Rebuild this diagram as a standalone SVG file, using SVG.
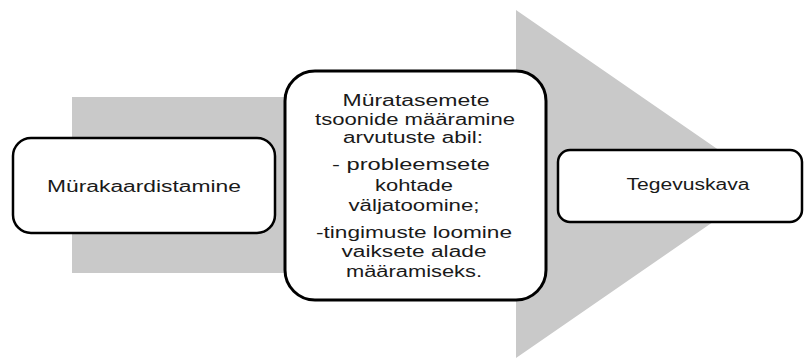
<svg xmlns="http://www.w3.org/2000/svg" width="805" height="360" viewBox="0 0 805 360">
<style>
.box{fill:#fff;stroke:#000;}
.t{font-family:"Liberation Sans",Arial,sans-serif;font-size:16px;fill:#1a1a1a;text-anchor:middle;}
</style>
<rect width="805" height="360" fill="#fff"/>
<g id="connectors">
<polygon points="72,97 516,97 516,10 768,184 516,358 516,273 72,273" fill="#c9c9c9"/>
</g>
<g id="node-murakaardistamine">
<rect class="box" x="13" y="138" width="262" height="95" rx="18" stroke-width="2.5"/>
<text class="t" x="144" y="192" textLength="194" lengthAdjust="spacingAndGlyphs">Mürakaardistamine</text>
</g>
<g id="node-muratasemete">
<rect class="box" x="285" y="71" width="261" height="229" rx="30" stroke-width="3"/>
<text class="t" x="416" y="106" textLength="147" lengthAdjust="spacingAndGlyphs">Müratasemete</text>
<text class="t" x="415" y="125" textLength="200" lengthAdjust="spacingAndGlyphs">tsoonide määramine</text>
<text class="t" x="413" y="143" textLength="140" lengthAdjust="spacingAndGlyphs">arvutuste abil:</text>
<text class="t" x="411" y="170" textLength="158" lengthAdjust="spacingAndGlyphs">- probleemsete</text>
<text class="t" x="414" y="191" textLength="78" lengthAdjust="spacingAndGlyphs">kohtade</text>
<text class="t" x="414" y="211" textLength="131" lengthAdjust="spacingAndGlyphs">väljatoomine;</text>
<text class="t" x="414" y="238" textLength="196" lengthAdjust="spacingAndGlyphs">-tingimuste loomine</text>
<text class="t" x="414" y="257" textLength="145" lengthAdjust="spacingAndGlyphs">vaiksete alade</text>
<text class="t" x="414" y="277" textLength="136" lengthAdjust="spacingAndGlyphs">määramiseks.</text>
</g>
<g id="node-tegevuskava">
<rect class="box" x="558" y="150" width="244" height="72" rx="12" stroke-width="2.5"/>
<text class="t" x="688" y="190" textLength="123" lengthAdjust="spacingAndGlyphs">Tegevuskava</text>
</g>
</svg>
